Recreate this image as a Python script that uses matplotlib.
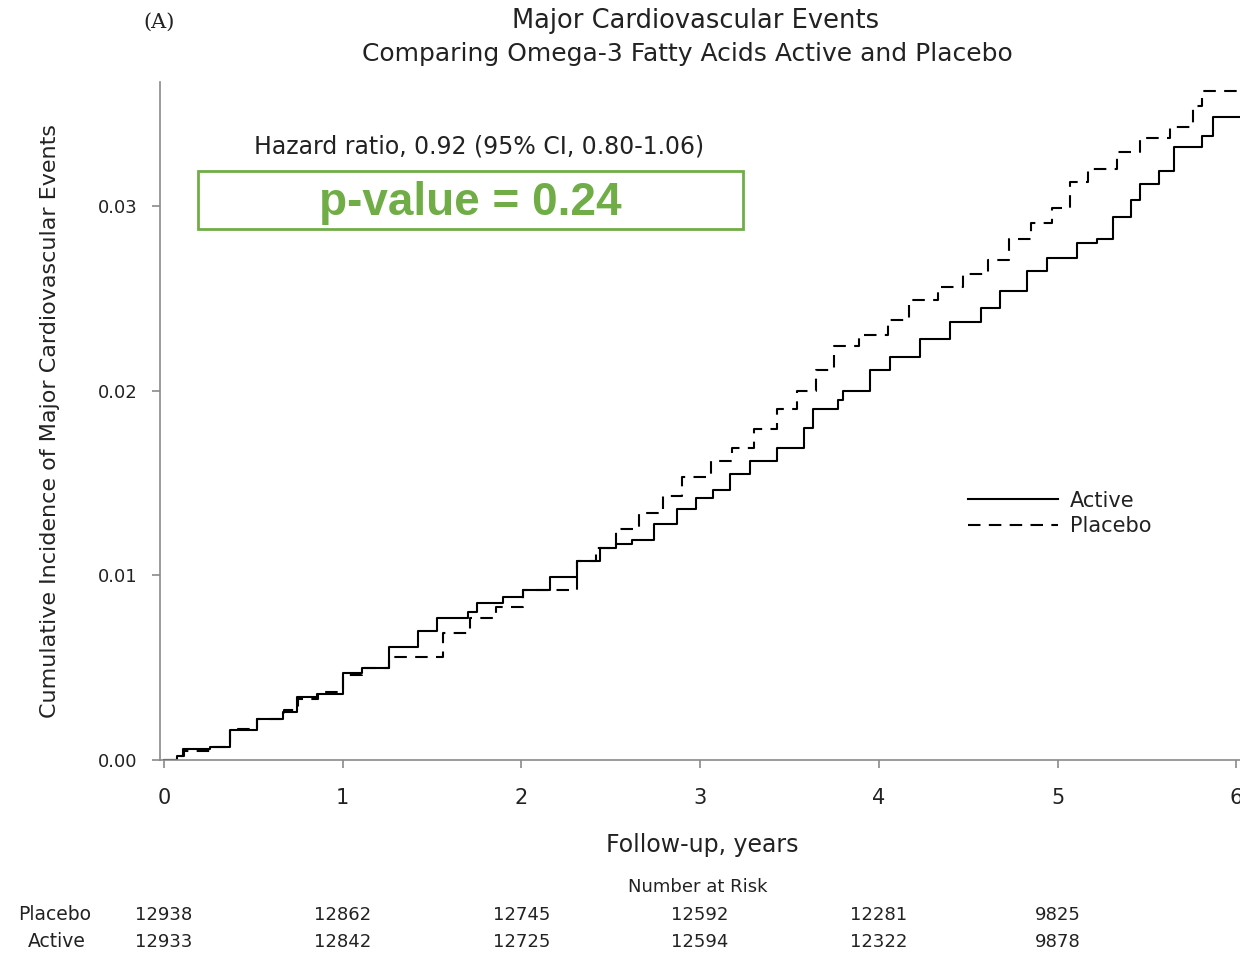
import matplotlib.pyplot as plt
from matplotlib.patches import Rectangle

# Kaplan-Meier style cumulative incidence
active_t = [0, 0.073, 0.106, 0.257, 0.369, 0.520, 0.666, 0.744, 0.856, 1.00, 1.11, 1.26,
            1.42, 1.53, 1.70, 1.75, 1.90, 2.01, 2.16, 2.31, 2.44, 2.53, 2.62, 2.74, 2.87,
            2.98, 3.07, 3.17, 3.28, 3.43, 3.58, 3.63, 3.77, 3.80, 3.95, 4.06, 4.23, 4.40,
            4.57, 4.68, 4.83, 4.94, 5.11, 5.22, 5.31, 5.41, 5.46, 5.57, 5.65, 5.81, 5.87, 6.03]
active_y = [0, 0.0002, 0.0006, 0.0007, 0.0016, 0.0022, 0.0026, 0.0034, 0.0036, 0.0047, 0.0050, 0.0061,
            0.0070, 0.0077, 0.0080, 0.0085, 0.0088, 0.0092, 0.0099, 0.0108, 0.0115, 0.0117, 0.0119, 0.0128, 0.0136,
            0.0142, 0.0146, 0.0155, 0.0162, 0.0169, 0.0180, 0.0190, 0.0195, 0.0200, 0.0211, 0.0218, 0.0228, 0.0237,
            0.0245, 0.0254, 0.0265, 0.0272, 0.0280, 0.0282, 0.0294, 0.0303, 0.0312, 0.0319, 0.0332, 0.0338, 0.0348, 0.0348]

placebo_t = [0, 0.07, 0.11, 0.26, 0.37, 0.52, 0.67, 0.75, 0.86, 1.00, 1.11, 1.26, 1.56, 1.71,
             1.86, 2.01, 2.31, 2.42, 2.53, 2.66, 2.79, 2.90, 3.06, 3.18, 3.30, 3.43, 3.54,
             3.65, 3.75, 3.89, 4.05, 4.17, 4.33, 4.47, 4.61, 4.73, 4.85, 4.97, 5.07, 5.17,
             5.33, 5.46, 5.63, 5.76, 5.81, 6.03]
placebo_y = [0, 0.0002, 0.0005, 0.0007, 0.0017, 0.0022, 0.0027, 0.0033, 0.0037, 0.0046, 0.0050, 0.0056, 0.0069, 0.0077,
             0.0083, 0.0092, 0.0108, 0.0115, 0.0125, 0.0134, 0.0143, 0.0153, 0.0162, 0.0169, 0.0179, 0.0190, 0.0200,
             0.0211, 0.0224, 0.0230, 0.0238, 0.0249, 0.0256, 0.0263, 0.0271, 0.0282, 0.0291, 0.0299, 0.0313, 0.0320,
             0.0329, 0.0337, 0.0343, 0.0354, 0.0362, 0.0362]

years = [0, 1, 2, 3, 4, 5, 6]
yticks = [0.00, 0.01, 0.02, 0.03]
risk_placebo = ['12938', '12862', '12745', '12592', '12281', '9825']
risk_active = ['12933', '12842', '12725', '12594', '12322', '9878']

txt = '#222222'
grey = '#8a8a8a'

fig = plt.figure(figsize=(12.4, 9.56), dpi=100)
ax = fig.add_axes([0.129, 0.205, 0.871, 0.709])

ax.plot(active_t, active_y, drawstyle='steps-post', color='black', lw=1.5, label='Active')
ax.plot(placebo_t, placebo_y, drawstyle='steps-post', color='black', lw=1.5,
        linestyle=(0, (6, 4)), label='Placebo')

ax.set_xlim(-0.022, 6.021)
ax.set_ylim(0, 0.0367)
ax.set_xticks(years)
ax.set_yticks(yticks)
ax.set_yticklabels(['%.2f' % v for v in yticks])
ax.tick_params(colors=grey, labelcolor=txt, length=6, width=1.2)
ax.tick_params(axis='x', labelsize=15, pad=14)
ax.tick_params(axis='y', labelsize=13, pad=10)
for s in ['top', 'right']:
    ax.spines[s].set_visible(False)
for s in ['left', 'bottom']:
    ax.spines[s].set_color(grey)
    ax.spines[s].set_linewidth(1.2)

ax.set_ylabel('Cumulative Incidence of Major Cardiovascular Events', fontsize=16,
              color=txt, labelpad=27)

leg = ax.legend(frameon=False, loc='upper left', bbox_to_anchor=(0.731, 0.425),
                handlelength=4.3, fontsize=15, labelspacing=0.25, handletextpad=0.6)
for t in leg.get_texts():
    t.set_color(txt)

# titles
fig.text(0.561, 0.978, 'Major Cardiovascular Events', ha='center', va='center',
         fontsize=18.5, color=txt)
fig.text(0.554, 0.943, 'Comparing Omega-3 Fatty Acids Active and Placebo', ha='center',
         va='center', fontsize=18, color=txt)
fig.text(0.128, 0.977, '(A)', ha='center', va='center', fontsize=15, color=txt,
         family='DejaVu Serif')

# hazard ratio and p-value box
fig.text(0.386, 0.847, 'Hazard ratio, 0.92 (95% CI, 0.80-1.06)', ha='center', va='center',
         fontsize=17, color=txt)
fig.patches.append(Rectangle((198 / 1240, 1 - 229 / 956), 545 / 1240, 58 / 956,
                             transform=fig.transFigure, fill=False,
                             edgecolor='#70AD47', lw=2))
fig.text(0.379, 0.788, 'p-value = 0.24', ha='center', va='center', fontsize=33,
         fontweight='bold', color='#70AD47', family='Liberation Sans')

# x label and number at risk table
fig.text(0.566, 0.116, 'Follow-up, years', ha='center', va='center', fontsize=17, color=txt)
fig.text(0.563, 0.072, 'Number at Risk', ha='center', va='center', fontsize=13, color=txt)
fig.text(0.044, 0.043, 'Placebo', ha='center', va='center', fontsize=13.5, color=txt)
fig.text(0.046, 0.015, 'Active', ha='center', va='center', fontsize=13.5, color=txt)
for i, (p, a) in enumerate(zip(risk_placebo, risk_active)):
    xf = fig.transFigure.inverted().transform(ax.transData.transform((years[i], 0)))[0]
    fig.text(xf, 0.043, p, ha='center', va='center', fontsize=13, color=txt)
    fig.text(xf, 0.015, a, ha='center', va='center', fontsize=13, color=txt)

fig.savefig('out.png', dpi=100, facecolor='white')
